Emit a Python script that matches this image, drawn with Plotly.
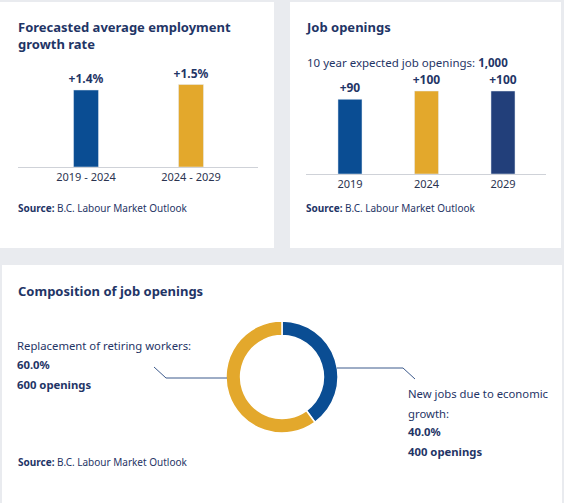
import plotly.graph_objects as go

W, H = 564, 503

# ---- data ----
growth_periods = ["2019 - 2024", "2024 - 2029"]
growth_rates = [1.4, 1.5]

opening_years = ["2019", "2024", "2029"]
opening_counts = [90, 100, 100]

comp_labels = ["New jobs due to economic growth:", "Replacement of retiring workers:"]
comp_values = [400, 600]

source_text = "B.C. Labour Market Outlook"

# ---- styling ----
BLUE = "#0a4d93"
GOLD = "#e3a82c"
NAVY = "#223f7a"
TXT = "#1f3566"
BG = "#e9ebef"
FONT = "Noto Sans"


def px(x):
    return x / W


def py(y):
    return 1 - y / H


fig = go.Figure()

fig.add_trace(go.Bar(
    x=list(range(len(growth_periods))), y=growth_rates,
    marker_color=[BLUE, GOLD], width=0.238,
    texttemplate="<b>+%{y:.1f}%</b>", textposition="outside", constraintext="none",
    textfont=dict(size=12, color=TXT, family=FONT), cliponaxis=False,
    xaxis="x", yaxis="y", showlegend=False, hoverinfo="skip",
))

fig.add_trace(go.Bar(
    x=list(range(len(opening_years))), y=opening_counts,
    marker_color=[BLUE, GOLD, NAVY], width=0.314,
    texttemplate="<b>+%{y}</b>", textposition="outside", constraintext="none",
    textfont=dict(size=12, color=TXT, family=FONT), cliponaxis=False,
    xaxis="x2", yaxis="y2", showlegend=False, hoverinfo="skip",
))

fig.add_trace(go.Pie(
    labels=comp_labels, values=comp_values, hole=0.74, sort=False,
    direction="clockwise", rotation=0,
    marker=dict(colors=[BLUE, GOLD], line=dict(color="white", width=1.5)),
    textinfo="none", hoverinfo="skip", showlegend=False,
    domain=dict(x=[px(226), px(338)], y=[py(433), py(321)]),
))

axis_common = dict(showgrid=False, zeroline=False, showline=True,
                   linecolor="#cfd2d8", linewidth=1, ticks="",
                   tickfont=dict(size=11, color="#2b3450", family=FONT))

fig.update_layout(
    width=W, height=H, margin=dict(l=0, r=0, t=0, b=0),
    paper_bgcolor=BG, plot_bgcolor="rgba(0,0,0,0)",
    font=dict(family=FONT, color=TXT),
    xaxis=dict(domain=[px(18), px(258)], range=[-0.648, 1.638],
               tickvals=list(range(len(growth_periods))), ticktext=growth_periods,
               anchor="y", **axis_common),
    yaxis=dict(domain=[py(167), py(79)], range=[0, 1.6], visible=False, anchor="x"),
    xaxis2=dict(domain=[px(306), px(546)], range=[-0.575, 2.562],
                tickvals=list(range(len(opening_years))), ticktext=opening_years,
                anchor="y2", **axis_common),
    yaxis2=dict(domain=[py(174), py(82.7)], range=[0, 110], visible=False, anchor="x2"),
)

# panels
panels = [(0, 2, 274, 248), (290, 2, 561, 248), (2, 265, 562, 503)]
for x0, y0, x1, y1 in panels:
    fig.add_shape(type="rect", xref="paper", yref="paper",
                  x0=px(x0), x1=px(x1), y0=py(y1), y1=py(y0),
                  fillcolor="white", line=dict(width=0), layer="below")

# leader lines
fig.add_shape(type="path", xref="paper", yref="paper",
              path=f"M {px(154)} {py(367)} L {px(166)} {py(378)} L {px(227)} {py(378)}",
              line=dict(color="#3d5a8c", width=1))
fig.add_shape(type="path", xref="paper", yref="paper",
              path=f"M {px(337)} {py(368)} L {px(403)} {py(368)} L {px(415)} {py(379)}",
              line=dict(color="#3d5a8c", width=1))


def note(x, y, text, size, **kw):
    fig.add_annotation(x=px(x - 2), y=py(y), xref="paper", yref="paper", text=text,
                       showarrow=False, xanchor="left", yanchor="middle", align="left",
                       font=dict(size=size, color=TXT, family=FONT), **kw)


note(18, 35, "<b>Forecasted average employment<br>growth rate</b>", 13)
note(306, 27, "<b>Job openings</b>", 13)
total = sum(comp_values)
note(307, 62, f"10 year expected job openings: <b>{total:,}</b>", 11.5)
note(18, 291, "<b>Composition of job openings</b>", 13)

src = f"<b>Source:</b> {source_text}"
note(18, 208, src, 10)
note(306, 208, src, 10)
note(18, 462, src, 10)

# donut labels
pct = [v / total * 100 for v in comp_values]
LS = 11.3
note(17, 345, comp_labels[1], LS)
note(17, 364, f"<b>{pct[1]:.1f}%</b>", LS)
note(17, 384, f"<b>{comp_values[1]} openings</b>", LS)

words = comp_labels[0].split(" ")
note(408, 393, " ".join(words[:5]), LS)
note(408, 413, " ".join(words[5:]), LS)
note(408, 431, f"<b>{pct[0]:.1f}%</b>", LS)
note(408, 451, f"<b>{comp_values[0]} openings</b>", LS)

fig.write_html("out.html", config={"displayModeBar": False},
               post_script="document.body.style.margin='0';document.body.style.overflow='hidden';")
